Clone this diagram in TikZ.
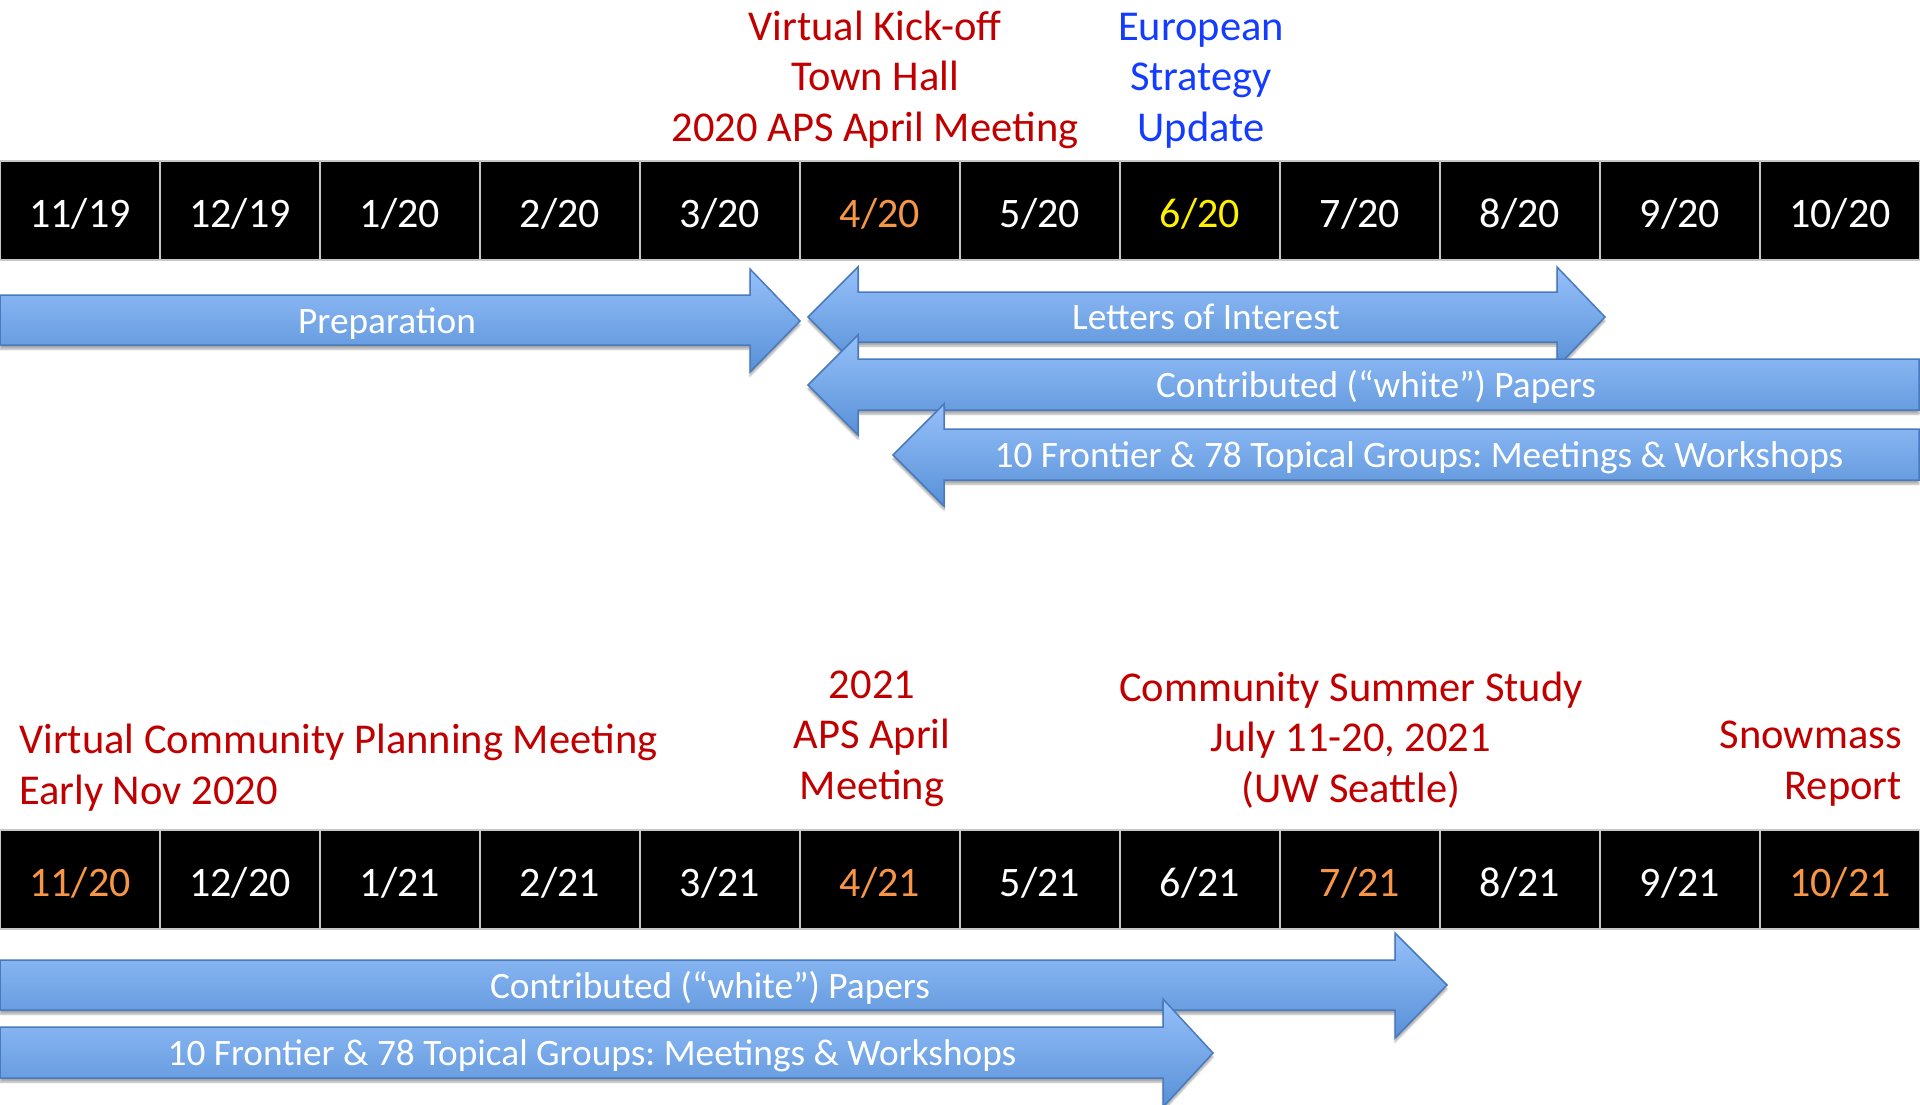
\documentclass[tikz,border=0pt]{standalone}
\usepackage{fontspec}
\setmainfont{Carlito}
\frenchspacing
\usetikzlibrary{shadows.blur}
\definecolor{evred}{RGB}{192,0,0}
\definecolor{evblue}{RGB}{20,60,255}
\definecolor{hilite}{RGB}{247,150,70}
\definecolor{arrowtop}{RGB}{150,192,250}
\definecolor{arrowbot}{RGB}{88,145,215}
\definecolor{arrowline}{RGB}{72,122,190}

\begin{document}
\begin{tikzpicture}[x=1pt,y=-1pt,
month/.style={draw=white!78!black, line width=1.5pt, fill=black, text=white,
  minimum width=160pt, minimum height=99pt, inner sep=0pt,
  text height=33pt, text depth=0pt, font=\fontsize{42}{50}\selectfont},
event/.style={text=evred, align=center, inner sep=0pt, font=\fontsize{42.5}{50.5}\selectfont},
blockarrow/.style={draw=arrowline, line width=1.5pt, top color=arrowtop, bottom color=arrowbot,
  blur shadow={shadow xshift=0pt, shadow yshift=-4pt, shadow blur steps=6, shadow opacity=35}},
bartext/.style={text=white, inner sep=0pt, anchor=base, font=\fontsize{37.3}{44}\selectfont}]
\useasboundingbox (0,0) rectangle (1920,1105);

% 2019-2020 months
\node (t1) at (80,210.5) [month] {11/19};
\node (t2) at (240,210.5) [month] {12/19};
\node (t3) at (400,210.5) [month] {1/20};
\node (t4) at (560,210.5) [month] {2/20};
\node (t5) at (720,210.5) [month] {3/20};
\node (t6) at (880,210.5) [month, text=hilite] {4/20};
\node (t7) at (1040,210.5) [month] {5/20};
\node (t8) at (1200,210.5) [month, text=yellow] {6/20};
\node (t9) at (1360,210.5) [month] {7/20};
\node (t10) at (1520,210.5) [month] {8/20};
\node (t11) at (1680,210.5) [month] {9/20};
\node (t12) at (1840,210.5) [month] {10/20};

% base = last line
\node (kickoff) at (875,141.5) [event, anchor=base] {Virtual Kick-off\\Town Hall\\2020 APS April Meeting};
\node (esu) at (1201,141.5) [event, anchor=base, text=evblue] {European\\Strategy\\Update};

% 2020 activities
\draw[blockarrow] (0,295) -- (750,295) -- (750,269) -- (800,321) -- (750,372) -- (750,345) -- (0,345) -- cycle;
\node (prep) at (387,333) [bartext] {Preparation};
\draw[blockarrow] (808,317) -- (858,267) -- (858,292) -- (1557,292) -- (1557,267) -- (1605,317)
  -- (1557,367) -- (1557,342) -- (858,342) -- (858,367) -- cycle;
\node (loi) at (1206,329) [bartext] {Letters of Interest};
\draw[blockarrow] (808,385) -- (858,335) -- (858,359) -- (1919,359) -- (1919,410) -- (858,410) -- (858,435) -- cycle;
\node (papers) at (1376,397) [bartext] {Contributed (“white”) Papers};
\draw[blockarrow] (893,455) -- (944,404) -- (944,429) -- (1919,429) -- (1919,480) -- (944,480) -- (944,506) -- cycle;
\node (groups) at (1419,467) [bartext] {10 Frontier \& 78 Topical Groups: Meetings \& Workshops};

% 2020-2021 months
\node (b1) at (80,879.5) [month, text=hilite] {11/20};
\node (b2) at (240,879.5) [month] {12/20};
\node (b3) at (400,879.5) [month] {1/21};
\node (b4) at (560,879.5) [month] {2/21};
\node (b5) at (720,879.5) [month] {3/21};
\node (b6) at (880,879.5) [month, text=hilite] {4/21};
\node (b7) at (1040,879.5) [month] {5/21};
\node (b8) at (1200,879.5) [month] {6/21};
\node (b9) at (1360,879.5) [month, text=hilite] {7/21};
\node (b10) at (1520,879.5) [month] {8/21};
\node (b11) at (1680,879.5) [month] {9/21};
\node (b12) at (1840,879.5) [month, text=hilite] {10/21};

\node (cpm) at (19,804) [event, align=left, anchor=base west] {Virtual Community Planning Meeting\\Early Nov 2020};
\node (aps) at (872,799) [event, anchor=base] {2021\\APS April\\Meeting};
\node (css) at (1351,802) [event, anchor=base] {Community Summer Study\\July 11-20, 2021\\(UW Seattle)};
\node (report) at (1902,799) [event, align=right, anchor=base east] {Snowmass\\Report};

% 2021 activities
\draw[blockarrow] (0,960) -- (1395,960) -- (1395,933) -- (1447,985) -- (1395,1038) -- (1395,1010) -- (0,1010) -- cycle;
\node (papers2) at (710,998) [bartext] {Contributed (“white”) Papers};
\draw[blockarrow] (0,1027) -- (1163,1027) -- (1163,999) -- (1213,1053) -- (1163,1107) -- (1163,1078) -- (0,1078) -- cycle;
\node (groups2) at (592,1065) [bartext] {10 Frontier \& 78 Topical Groups: Meetings \& Workshops};
\end{tikzpicture}
\end{document}
